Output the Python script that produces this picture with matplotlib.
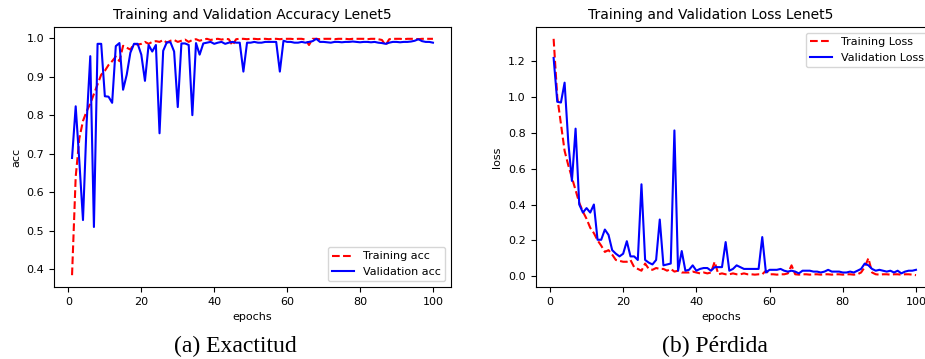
import numpy as np
import matplotlib
matplotlib.use('Agg')
import matplotlib.pyplot as plt

epochs = np.arange(1, 101)

train_acc = [0.385, 0.64, 0.74, 0.785, 0.81, 0.83, 0.855, 0.88, 0.905, 0.915,
             0.93, 0.94, 0.952, 0.94, 0.98, 0.975, 0.97, 0.985, 0.983, 0.985,
             0.99, 0.985, 0.99, 0.992, 0.99, 0.995, 0.988, 0.993, 0.995, 0.99,
             0.993, 0.996, 0.99, 0.995, 0.997, 0.993, 0.996, 0.998, 0.995, 0.997,
             0.998, 0.996, 0.998, 0.997, 0.981, 0.997, 0.998, 0.998, 0.997, 0.998,
             0.998, 0.997, 0.998, 0.998, 0.997, 0.998, 0.998, 0.997, 0.998, 0.998,
             0.998, 0.997, 0.998, 0.998, 0.996, 0.982, 0.998, 0.998, 0.997, 0.998,
             0.998, 0.998, 0.997, 0.998, 0.998, 0.998, 0.997, 0.998, 0.998, 0.998,
             0.998, 0.997, 0.998, 0.998, 0.997, 0.995, 0.981, 0.997, 0.998, 0.998,
             0.998, 0.997, 0.998, 0.998, 0.998, 0.997, 0.998, 0.998, 0.998, 0.998]

val_acc = [0.689, 0.823, 0.68, 0.528, 0.78, 0.953, 0.51, 0.985, 0.985, 0.849,
           0.848, 0.832, 0.979, 0.987, 0.866, 0.905, 0.962, 0.985, 0.985, 0.957,
           0.889, 0.982, 0.965, 0.982, 0.753, 0.967, 0.989, 0.989, 0.965, 0.821,
           0.986, 0.986, 0.982, 0.800, 0.987, 0.957, 0.986, 0.988, 0.99, 0.985,
           0.988, 0.99, 0.985, 0.988, 0.99, 0.988, 0.988, 0.913, 0.988, 0.988,
           0.99, 0.988, 0.988, 0.99, 0.99, 0.99, 0.99, 0.913, 0.993, 0.99,
           0.99, 0.988, 0.988, 0.99, 0.988, 0.99, 0.992, 0.998, 0.99, 0.99,
           0.989, 0.988, 0.99, 0.99, 0.989, 0.99, 0.99, 0.991, 0.99, 0.989,
           0.99, 0.99, 0.989, 0.99, 0.988, 0.987, 0.985, 0.988, 0.99, 0.99,
           0.989, 0.99, 0.99, 0.991, 0.993, 0.997, 0.992, 0.99, 0.99, 0.988]

train_loss = [1.326, 1.0, 0.85, 0.7, 0.62, 0.55, 0.48, 0.41, 0.36, 0.32,
              0.27, 0.24, 0.2, 0.17, 0.135, 0.145, 0.12, 0.09, 0.085, 0.08,
              0.08, 0.09, 0.05, 0.04, 0.03, 0.07, 0.04, 0.035, 0.045, 0.04,
              0.04, 0.03, 0.04, 0.025, 0.03, 0.02, 0.02, 0.02, 0.025, 0.02,
              0.015, 0.02, 0.015, 0.02, 0.08, 0.01, 0.015, 0.01, 0.01, 0.015,
              0.01, 0.01, 0.015, 0.01, 0.01, 0.008, 0.01, 0.01, 0.03, 0.01,
              0.01, 0.008, 0.01, 0.01, 0.015, 0.06, 0.01, 0.008, 0.01, 0.01,
              0.008, 0.01, 0.01, 0.008, 0.01, 0.01, 0.008, 0.01, 0.01, 0.008,
              0.01, 0.01, 0.008, 0.01, 0.02, 0.05, 0.10, 0.02, 0.01, 0.008,
              0.01, 0.01, 0.008, 0.01, 0.01, 0.008, 0.01, 0.01, 0.008, 0.005]

val_loss = [1.219, 0.974, 0.97, 1.081, 0.75, 0.532, 0.824, 0.40, 0.355, 0.38,
            0.355, 0.40, 0.203, 0.203, 0.26, 0.23, 0.145, 0.125, 0.11, 0.125,
            0.195, 0.11, 0.11, 0.09, 0.513, 0.09, 0.075, 0.065, 0.09, 0.316,
            0.06, 0.065, 0.07, 0.814, 0.03, 0.14, 0.03, 0.035, 0.06, 0.03,
            0.04, 0.045, 0.045, 0.03, 0.05, 0.05, 0.05, 0.19, 0.03, 0.04,
            0.06, 0.05, 0.04, 0.04, 0.04, 0.04, 0.04, 0.218, 0.02, 0.035,
            0.035, 0.035, 0.04, 0.03, 0.025, 0.03, 0.025, 0.015, 0.03, 0.03,
            0.03, 0.025, 0.025, 0.02, 0.025, 0.035, 0.025, 0.025, 0.025, 0.02,
            0.02, 0.025, 0.02, 0.03, 0.04, 0.07, 0.06, 0.04, 0.03, 0.035,
            0.03, 0.025, 0.03, 0.02, 0.03, 0.015, 0.025, 0.03, 0.03, 0.035]

W, H = 925, 359
fig = plt.figure(figsize=(W / 100, H / 100), dpi=100)

# axes placed in pixel terms (right panel runs past the image edge like the reference)
ax1 = fig.add_axes([54 / W, (H - 287) / H, 397 / W, 260 / H])
ax2 = fig.add_axes([535.5 / W, (H - 287) / H, 398.6 / W, 260 / H])

fs_tick = 8
ax1.plot(epochs, train_acc, 'r--', lw=1.5, label='Training acc')
ax1.plot(epochs, val_acc, 'b', lw=1.5, label='Validation acc')
ax1.set_title('Training and Validation Accuracy Lenet5', fontsize=10)
ax1.set_xlabel('epochs', fontsize=fs_tick)
ax1.set_ylabel('acc', fontsize=fs_tick)
ax1.legend(loc='lower right', fontsize=fs_tick)

ax2.plot(epochs, train_loss, 'r--', lw=1.5, label='Training Loss')
ax2.plot(epochs, val_loss, 'b', lw=1.5, label='Validation Loss')
ax2.set_title('Training and Validation Loss Lenet5', fontsize=10, x=0.44)
ax2.set_xlabel('epochs', fontsize=fs_tick, x=0.465)
ax2.set_ylabel('loss', fontsize=fs_tick)
ax2.legend(loc='upper right', fontsize=fs_tick)

for ax in (ax1, ax2):
    ax.tick_params(labelsize=fs_tick, length=3.5)

fig.text(235 / W, 13 / H, '(a) Exactitud', family='Liberation Serif', fontsize=17,
         ha='center', va='center')
fig.text(715 / W, 13 / H, '(b) Pérdida', family='Liberation Serif', fontsize=17,
         ha='center', va='center')

fig.savefig('out.png', dpi=100)
